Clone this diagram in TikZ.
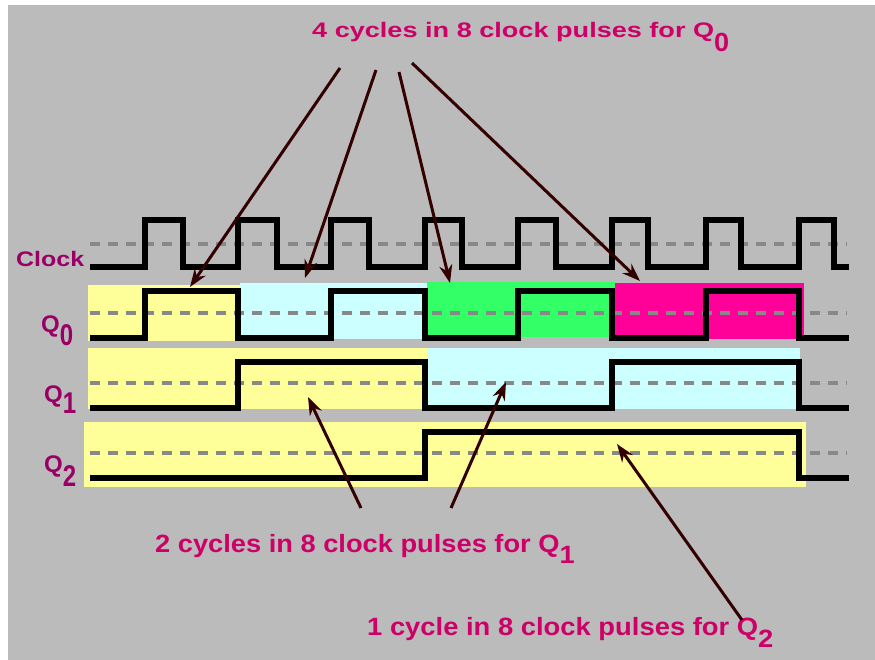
\documentclass[tikz,border=0pt]{standalone}
\usepackage{fontspec}
\setmainfont{Liberation Sans}
\usetikzlibrary{arrows.meta}
\definecolor{bggray}{HTML}{BBBBBB}
\definecolor{dashgray}{HTML}{888888}
\definecolor{lblcol}{HTML}{990066}
\definecolor{anncol}{HTML}{CC0066}
\definecolor{arrowcol}{HTML}{330000}
\definecolor{boxyellow}{HTML}{FFFF99}
\definecolor{boxcyan}{HTML}{CCFFFF}
\definecolor{boxgreen}{HTML}{33FF66}
\definecolor{boxmag}{HTML}{FF0099}
\begin{document}
\begin{tikzpicture}[x=1pt,y=-1pt,
  wave/.style={line width=6pt, line join=miter, draw=black},
  dashln/.style={line width=4pt, draw=dashgray, dash pattern=on 10pt off 8pt},
  lbl/.style={anchor=base west, inner sep=0pt, text=lblcol, font=\bfseries},
  ann/.style={anchor=base west, inner sep=0pt, text=anncol, font=\bfseries},
  ptr/.style={draw=arrowcol, line width=3pt, -{Stealth[length=18pt,width=13pt]}},
]
\useasboundingbox (0,0) rectangle (875,660);
\fill[white] (0,0) rectangle (875,660);
\fill[bggray] (8,5) rectangle (875,660);

% coloured backgrounds
\fill[boxyellow] (88,285) rectangle (240,341);
\fill[boxcyan] (240,283) rectangle (427,339);
\fill[boxgreen] (427,282) rectangle (615,337);
\fill[boxmag] (615,283) rectangle (804,339);
\fill[boxyellow] (88,348) rectangle (427,409);
\fill[boxcyan] (427,348) rectangle (800,409);
\fill[boxyellow] (84,422) rectangle (806,487);

% dashed reference lines
\foreach \yy in {244,313,383,453} \draw[dashln] (90,\yy) -- (847,\yy);

% waveforms
\draw[wave] (90,267) -- (145,267) -- (145,220.5) -- (183,220.5) -- (183,267)
  -- (238,267) -- (238,220.5) -- (277,220.5) -- (277,267)
  -- (331,267) -- (331,220.5) -- (369,220.5) -- (369,267)
  -- (425,267) -- (425,220.5) -- (462,220.5) -- (462,267)
  -- (518,267) -- (518,220.5) -- (556,220.5) -- (556,267)
  -- (612,267) -- (612,220.5) -- (648,220.5) -- (648,267)
  -- (706,267) -- (706,220.5) -- (741,220.5) -- (741,267)
  -- (799,267) -- (799,220.5) -- (834,220.5) -- (834,267) -- (849,267);
\draw[wave] (90,337.5) -- (145,337.5) -- (145,291) -- (238,291) -- (238,337.5)
  -- (331,337.5) -- (331,291) -- (425,291) -- (425,337.5)
  -- (518,337.5) -- (518,291) -- (612,291) -- (612,337.5)
  -- (706,337.5) -- (706,291) -- (799,291) -- (799,337.5) -- (849,337.5);
\draw[wave] (90,407.5) -- (238,407.5) -- (238,361.5) -- (425,361.5) -- (425,407.5)
  -- (612,407.5) -- (612,361.5) -- (799,361.5) -- (799,407.5) -- (849,407.5);
\draw[wave] (90,478) -- (425,478) -- (425,431.5) -- (799,431.5) -- (799,478) -- (849,478);

% row labels
\node[lbl] (clk) at (16,266) {\scalebox{1.19}[1]{\fontsize{21}{21}\selectfont Clock}};
\node[lbl] (q0) at (41,332) {\fontsize{24}{24}\selectfont Q\raisebox{-13pt}{\scalebox{1}[1.25]{0}}};
\node[lbl] (q1) at (44,402) {\fontsize{24}{24}\selectfont Q\raisebox{-11pt}{\scalebox{1}[1.25]{1}}};
\node[lbl] (q2) at (44,472) {\fontsize{24}{24}\selectfont Q\raisebox{-14pt}{\scalebox{1}[1.25]{2}}};

% annotations
\node[ann] (t0) at (312,38) {\scalebox{1.29}[1]{\fontsize{21}{21}\selectfont 4 cycles in 8 clock pulses for Q\raisebox{-14pt}{\scalebox{1}[1.25]{0}}}};
\node[ann] (t1) at (155,552) {\scalebox{1.09}[1]{\fontsize{25}{25}\selectfont 2 cycles in 8 clock pulses for Q\raisebox{-11pt}{1}}};
\node[ann] (t2) at (367,635) {\scalebox{1.095}[1]{\fontsize{25}{25}\selectfont 1 cycle in 8 clock pulses for Q\raisebox{-12pt}{2}}};

% arrow end points
\coordinate (a1s) at (340,68);  \coordinate (a1e) at (190,287);
\coordinate (a2s) at (376,70);  \coordinate (a2e) at (305,278);
\coordinate (a3s) at (399,72);  \coordinate (a3e) at (450,283);
\coordinate (a4s) at (412,63);  \coordinate (a4e) at (640,281);
\coordinate (a5s) at (361,508); \coordinate (a5e) at (308,397);
\coordinate (a6s) at (451,508); \coordinate (a6e) at (506,382);
\coordinate (a7s) at (742,620); \coordinate (a7e) at (617,444);

\draw[ptr] (a1s) -- (a1e);
\draw[ptr] (a2s) -- (a2e);
\draw[ptr] (a3s) -- (a3e);
\draw[ptr] (a4s) -- (a4e);
\draw[ptr] (a5s) -- (a5e);
\draw[ptr] (a6s) -- (a6e);
\draw[ptr] (a7s) -- (a7e);
\end{tikzpicture}
\end{document}
